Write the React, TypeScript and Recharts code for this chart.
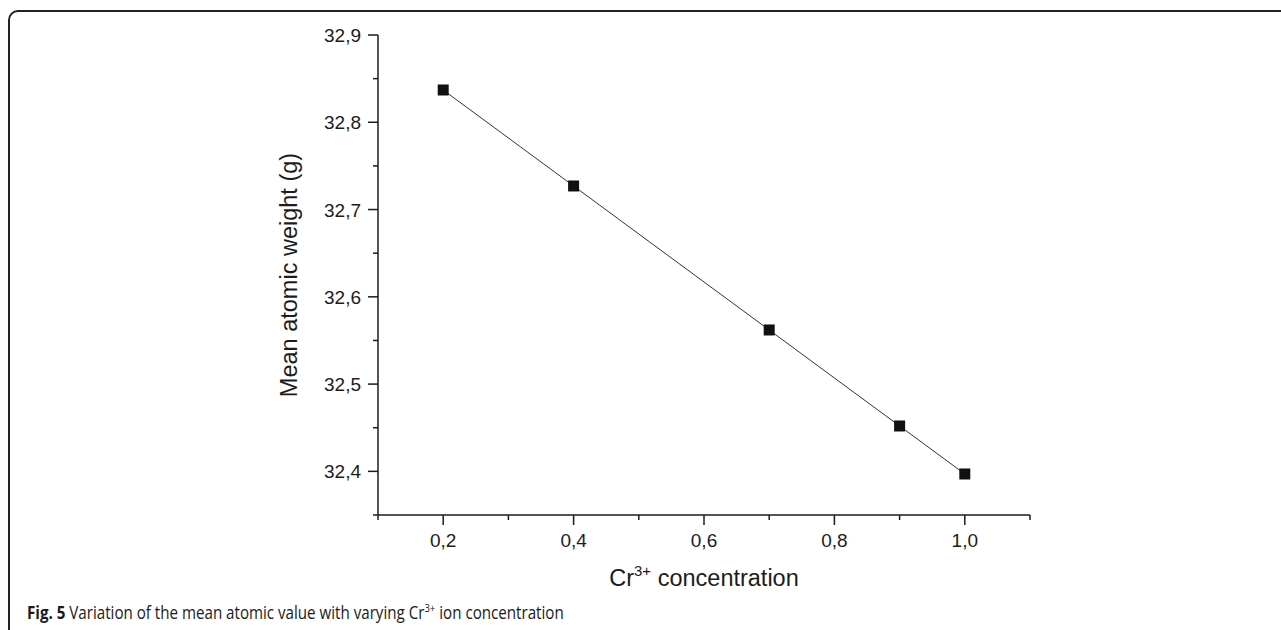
import React from "react";
import { LineChart, Line, XAxis, YAxis, Label } from "recharts";

const concentration = [0.2, 0.4, 0.7, 0.9, 1.0];
const meanAtomicWeight = [32.837, 32.727, 32.562, 32.452, 32.397];
const xTicks = [0.1, 0.2, 0.3, 0.4, 0.5, 0.6, 0.7, 0.8, 0.9, 1.0, 1.1];
const yTicks = [32.35, 32.4, 32.45, 32.5, 32.55, 32.6, 32.65, 32.7, 32.75, 32.8, 32.85, 32.9];

const data = concentration.map((c, i) => ({ c, w: meanAtomicWeight[i] }));

const INK = "#1c1c1c";
const FONT = "Liberation Sans, Arial, sans-serif";

const fmt = (v: number) => v.toFixed(1).replace(".", ",");

function XTick(props: any) {
  const { x, y, payload } = props;
  const v = payload.value as number;
  const major = Math.round(v * 10) % 2 === 0;
  return (
    <g>
      <line x1={x} x2={x} y1={y} y2={y + (major ? 10 : 5)} stroke={INK} strokeWidth={1.5} />
      {major && (
        <text x={x} y={y + 32} textAnchor="middle" fontSize={19} fill={INK} fontFamily={FONT}>
          {fmt(v)}
        </text>
      )}
    </g>
  );
}

function YTick(props: any) {
  const { x, y, payload } = props;
  const v = payload.value as number;
  const major = Math.abs(v * 10 - Math.round(v * 10)) < 1e-6;
  return (
    <g>
      <line x1={x} x2={x - (major ? 10 : 5)} y1={y} y2={y} stroke={INK} strokeWidth={1.5} />
      {major && (
        <text x={x - 17} y={y + 7} textAnchor="end" fontSize={19} fill={INK} fontFamily={FONT}>
          {fmt(v)}
        </text>
      )}
    </g>
  );
}

function Square(props: any) {
  const { cx, cy } = props;
  if (cx == null || cy == null) return null;
  return <rect x={cx - 5.5} y={cy - 5.5} width={11} height={11} fill="#111" />;
}

function YTitle(props: any) {
  const { x, y, width, height } = props.viewBox;
  const cx = x + width - 89;
  const cy = y + height / 2;
  return (
    <text
      x={cx}
      y={cy}
      transform={`rotate(-90 ${cx} ${cy})`}
      textAnchor="middle"
      dominantBaseline="central"
      fontSize={23.5}
      fill={INK}
      fontFamily={FONT}
    >
      Mean atomic weight (g)
    </text>
  );
}

function XTitle(props: any) {
  const { x, y, width } = props.viewBox;
  return (
    <text x={x + width / 2} y={y + 71} textAnchor="middle" fontSize={23.5} fill={INK} fontFamily={FONT}>
      Cr
      <tspan fontSize={15} dy={-10}>3+</tspan>
      <tspan dy={10}> concentration</tspan>
    </text>
  );
}

export default function App() {
  return (
    <div style={{ position: "absolute", left: 0, top: 0, width: 1281, height: 630, overflow: "hidden", background: "#fff" }}>
      <div
        style={{
          position: "absolute",
          left: 8,
          top: 10,
          width: 1400,
          height: 700,
          border: "2px solid #222",
          borderTopLeftRadius: 10,
          boxSizing: "border-box",
        }}
      />
      <div style={{ position: "absolute", left: 0, top: 0 }}>
        <LineChart width={1281} height={600} data={data} margin={{ top: 35, right: 251, bottom: 0, left: 0 }}>
          <XAxis
            dataKey="c"
            type="number"
            domain={[0.1, 1.1]}
            ticks={xTicks}
            interval={0}
            tick={<XTick />}
            tickLine={false}
            tickSize={0}
            tickMargin={0}
            height={85}
            axisLine={{ stroke: INK, strokeWidth: 1.5 }}
          >
            <Label content={<XTitle />} />
          </XAxis>
          <YAxis
            type="number"
            domain={[32.35, 32.9]}
            ticks={yTicks}
            interval={0}
            tick={<YTick />}
            tickLine={false}
            tickSize={0}
            tickMargin={0}
            width={378}
            axisLine={{ stroke: INK, strokeWidth: 1.5 }}
            allowDataOverflow
          >
            <Label content={<YTitle />} />
          </YAxis>
          <Line
            type="linear"
            dataKey="w"
            stroke="#333"
            strokeWidth={1}
            dot={<Square />}
            activeDot={false}
            isAnimationActive={false}
          />
        </LineChart>
      </div>
      <div
        style={{
          position: "absolute",
          left: 27,
          top: 601,
          fontFamily: "'Open Sans', 'Noto Sans', sans-serif",
          fontSize: 17.5,
          color: "#1a1a1a",
          whiteSpace: "nowrap",
          lineHeight: "22px",
          transform: "scaleX(0.865)",
          transformOrigin: "left center",
        }}
      >
        <b>Fig. 5</b> Variation of the mean atomic value with varying Cr<sup style={{ fontSize: 11, lineHeight: 0 }}>3+</sup> ion concentration
      </div>
    </div>
  );
}
